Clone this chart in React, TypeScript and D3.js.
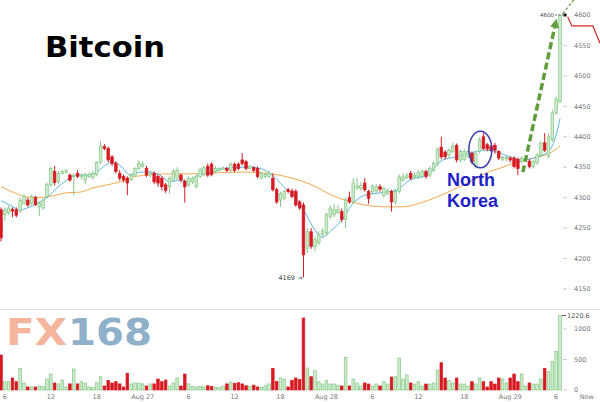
import React from "react";
import * as d3 from "d3";

// ---------- data ----------
const startTime = Date.UTC(2017, 7, 26, 5, 30);
const stepMs = 30 * 60 * 1000;

// [open, high, low, close] for each 30-minute candle
const candles: number[][] = [
  [4280,4284,4228,4234],[4272,4284,4262,4280],[4275,4287,4272,4283],[4281,4284,4268,4278],[4280,4284,4268,4271],
  [4278,4300,4275,4295],[4291,4306,4288,4302],[4296,4300,4285,4288],[4291,4305,4288,4302],[4300,4303,4286,4289],
  [4285,4294,4270,4291],[4283,4299,4280,4296],[4302,4325,4299,4321],[4321,4351,4318,4348],[4343,4352,4320,4325],
  [4326,4344,4322,4340],[4340,4346,4338,4343],[4342,4347,4339,4344],[4337,4340,4326,4329],[4335,4340,4304,4337],
  [4340,4345,4332,4335],[4334,4340,4330,4337],[4329,4341,4322,4337],[4335,4342,4332,4338],[4333,4344,4330,4340],
  [4338,4360,4335,4358],[4358,4393,4355,4385],[4384,4388,4378,4381],[4381,4384,4358,4362],[4367,4370,4352,4356],
  [4356,4360,4340,4343],[4340,4345,4328,4332],[4335,4338,4325,4329],[4332,4335,4304,4324],[4330,4340,4327,4337],
  [4337,4350,4334,4348],[4348,4362,4345,4356],[4351,4360,4349,4355],[4348,4352,4334,4337],[4337,4345,4333,4340],
  [4340,4343,4322,4326],[4335,4338,4318,4324],[4332,4335,4312,4318],[4321,4324,4308,4312],[4318,4335,4307,4332],
  [4329,4347,4326,4343],[4332,4350,4330,4345],[4337,4340,4325,4329],[4327,4330,4292,4318],[4321,4335,4318,4332],
  [4326,4335,4322,4332],[4318,4338,4315,4335],[4335,4349,4332,4346],[4338,4353,4335,4349],[4351,4356,4334,4337],
  [4355,4358,4335,4338],[4343,4352,4340,4348],[4345,4350,4343,4348],[4347,4351,4345,4349],[4348,4350,4342,4345],
  [4345,4358,4342,4355],[4355,4358,4342,4345],[4355,4358,4345,4348],[4362,4373,4353,4356],[4359,4362,4345,4348],
  [4348,4354,4346,4351],[4349,4352,4342,4345],[4348,4351,4332,4335],[4332,4343,4330,4340],[4335,4341,4332,4338],
  [4335,4345,4332,4340],[4332,4340,4310,4313],[4313,4316,4290,4293],[4296,4310,4285,4307],[4299,4313,4296,4310],
  [4313,4316,4307,4310],[4311,4315,4299,4302],[4310,4314,4285,4288],[4293,4296,4280,4283],[4288,4292,4169,4206],
  [4217,4250,4209,4244],[4244,4250,4216,4220],[4220,4236,4212,4231],[4226,4245,4222,4239],[4240,4250,4236,4245],
  [4242,4275,4238,4272],[4269,4287,4265,4283],[4272,4290,4268,4280],[4276,4288,4273,4280],[4277,4282,4260,4264],
  [4264,4300,4250,4296],[4300,4310,4290,4293],[4293,4332,4290,4324],[4316,4332,4313,4319],[4315,4326,4312,4320],
  [4324,4332,4310,4313],[4310,4313,4290,4299],[4310,4322,4305,4318],[4311,4322,4308,4318],[4318,4322,4310,4314],
  [4304,4318,4300,4315],[4307,4315,4304,4311],[4310,4313,4277,4293],[4293,4314,4289,4310],[4310,4338,4307,4334],
  [4329,4340,4326,4334],[4333,4341,4330,4336],[4340,4344,4329,4332],[4334,4342,4331,4337],[4334,4345,4331,4341],
  [4335,4347,4332,4343],[4343,4346,4331,4335],[4337,4352,4334,4348],[4345,4360,4342,4356],[4356,4381,4352,4380],
  [4383,4400,4363,4367],[4375,4378,4363,4367],[4370,4381,4366,4378],[4376,4390,4373,4384],[4386,4389,4358,4362],
  [4362,4379,4358,4376],[4363,4380,4360,4376],[4368,4379,4365,4376],[4373,4376,4355,4359],[4351,4376,4348,4373],
  [4376,4399,4373,4395],[4400,4406,4378,4381],[4387,4390,4376,4380],[4384,4387,4375,4378],[4386,4390,4372,4378],
  [4376,4378,4362,4365],[4363,4369,4360,4366],[4364,4369,4360,4366],[4365,4368,4358,4362],[4365,4368,4348,4351],
  [4363,4366,4337,4348],[4359,4368,4356,4365],[4362,4367,4359,4364],[4360,4363,4348,4351],[4351,4362,4348,4359],
  [4357,4373,4354,4370],[4370,4392,4367,4390],[4390,4406,4375,4378],[4368,4405,4365,4400],[4395,4445,4392,4439],
  [4439,4466,4436,4461],[4458,4600,4455,4600],
];

const volumes: number[] = [
  574,136,136,197,136,355,115,50,50,50,66,60,180,262,115,100,164,50,100,344,
  100,136,115,50,40,120,218,66,158,115,136,100,50,275,100,115,115,100,66,100,
  100,180,136,164,66,115,197,66,262,100,55,50,60,50,70,60,45,40,65,100,
  130,110,120,100,70,60,80,50,45,70,100,355,140,197,180,50,160,197,170,1180,
  360,218,317,136,98,153,98,98,80,66,536,66,180,115,66,115,98,66,98,66,
  136,98,213,218,524,180,246,115,98,136,66,98,98,115,328,448,197,153,115,197,
  98,98,66,136,98,197,136,50,136,98,197,180,115,197,262,136,262,66,115,98,
  98,180,355,300,470,630,1220.6,
];

// moving averages: [candle index, price]
const fastMA: number[][] = [
  [0,4295],[2.3,4288],[5,4280],[7.6,4285],[10.2,4293],[12,4300],[14.1,4313],[17.2,4329],[19.8,4337],
  [22.5,4337],[25,4342],[27.7,4355],[29.2,4359],[31.6,4350],[33.7,4337],[36.3,4342],[38.9,4342],
  [41.5,4337],[44.1,4326],[46.7,4329],[48.8,4326],[51.4,4337],[55.1,4342],[59.3,4349],[63.7,4350],
  [67.1,4349],[70.8,4337],[74.2,4316],[76.8,4301],[78.6,4285],[81.2,4255],[83.8,4235],[86.4,4247],
  [89,4263],[91.6,4288],[95,4304],[99,4308],[103.4,4313],[106.8,4329],[111.2,4337],[115.4,4362],
  [119,4367],[122.5,4373],[125.8,4378],[129.5,4375],[132.9,4367],[136.3,4362],[140,4367],[143,4376],
  [145,4403],[146,4430],
];
const slowMA: number[][] = [
  [0,4318],[3.1,4309],[6.8,4301],[10.2,4300],[13.6,4303],[17.2,4308],[20.6,4309],[24,4316],[27.7,4321],
  [31.1,4326],[34.5,4334],[38.1,4337],[41.5,4339],[44.9,4339],[49.3,4339],[56.7,4341],[63.7,4342],
  [70.8,4339],[76,4332],[81.2,4321],[86.4,4304],[91.6,4293],[95,4288],[100.8,4285],[105,4285],
  [109.4,4291],[113.8,4301],[118,4313],[122.5,4326],[126.9,4341],[131.1,4350],[135.5,4360],[140,4366],
  [143.3,4373],[146,4385],
];

const priceTicks = [4150, 4200, 4250, 4300, 4350, 4400, 4450, 4500, 4550, 4600];
const volumeTicks = [0, 500, 1000];
const timeTickLabels = ["6","12","18","Aug 27","6","12","18","Aug 28","6","12","18","Aug 29","6","Now"];
const timeTickTimes = [
  Date.UTC(2017,7,26,6),Date.UTC(2017,7,26,12),Date.UTC(2017,7,26,18),Date.UTC(2017,7,27,0),
  Date.UTC(2017,7,27,6),Date.UTC(2017,7,27,12),Date.UTC(2017,7,27,18),Date.UTC(2017,7,28,0),
  Date.UTC(2017,7,28,6),Date.UTC(2017,7,28,12),Date.UTC(2017,7,28,18),Date.UTC(2017,7,29,0),
  Date.UTC(2017,7,29,6),Date.UTC(2017,7,29,10),
];
const lowLabel = { index: 79, price: 4169 };
const lastPrice = 4600;
const lastVolume = 1220.6;

// annotations in data space
const arrowFrom = [136.3, 4342];
const arrowTo = [145.1, 4594];
const ellipseAt = { index: 125.2, price: 4379, halfCandles: 3, halfPrice: 30 };
const redTrail: number[][] = [[148, 4597], [149.1, 4582], [154.6, 4582], [156.4, 4554]];
const thinGreen: number[][] = [[146.7, 4602], [149.6, 4625]];

// ---------- drawing ----------
const GREEN_FILL = "#cfeccf";
const GREEN_STROKE = "#84c784";
const RED = "#d71a22";

export default function App() {
  const tOf = (i: number) => new Date(startTime + i * stepMs);
  const x = d3.scaleTime()
    .domain([tOf(0), tOf(146)])
    .range([1, 560]);
  const xi = (i: number) => x(tOf(i));
  const yP = d3.scaleLinear().domain([4150, 4600]).range([289, 15]);
  const yV = d3.scaleLinear().domain([0, 1000]).range([390, 329]);

  const maLine = d3.line<number[]>()
    .x((d) => xi(d[0]))
    .y((d) => yP(d[1]))
    .curve(d3.curveMonotoneX);
  const plainLine = d3.line<number[]>()
    .x((d) => xi(d[0]))
    .y((d) => yP(d[1]));

  const bw = 2.6;
  const ax1 = xi(arrowFrom[0]), ay1 = yP(arrowFrom[1]);
  const ax2 = xi(arrowTo[0]), ay2 = yP(arrowTo[1]);
  const ang = Math.atan2(ay2 - ay1, ax2 - ax1);
  const headLen = 9, headW = 4.5;
  const bx = ax2 - headLen * Math.cos(ang), by = ay2 - headLen * Math.sin(ang);
  const head = [
    [ax2, ay2],
    [bx + headW * Math.sin(ang), by - headW * Math.cos(ang)],
    [bx - headW * Math.sin(ang), by + headW * Math.cos(ang)],
  ];

  const ex = xi(ellipseAt.index), ey = yP(ellipseAt.price);
  const erx = xi(ellipseAt.index + ellipseAt.halfCandles) - ex;
  const ery = yP(ellipseAt.price - ellipseAt.halfPrice) - ey;

  const axisFont = { fontFamily: "DejaVu Sans, sans-serif", fontSize: 6.5, fill: "#777" };

  return (
    <svg width={600} height={402} style={{ position: "absolute", left: 0, top: 0, background: "#fff" }}>
      <rect x={0} y={0} width={600} height={402} fill="#fff" />
      {/* panel separator */}
      <line x1={0} x2={600} y1={309.5} y2={309.5} stroke="#e2e2e2" />

      {/* title */}
      <text x={45} y={57} fontFamily="DejaVu Sans, sans-serif" fontWeight="bold" fontSize={29} fill="#000"
        textLength={120} lengthAdjust="spacingAndGlyphs">Bitcoin</text>

      {/* logo */}
      <text x={6} y={345} fontFamily="DejaVu Sans, sans-serif" fontWeight="bold" fontSize={37} fill="#f5b49c"
        textLength={61} lengthAdjust="spacingAndGlyphs">FX</text>
      <text x={68} y={345} fontFamily="DejaVu Sans, sans-serif" fontWeight="bold" fontSize={37} fill="#8eb0c8"
        textLength={84} lengthAdjust="spacingAndGlyphs">168</text>

      {/* moving averages */}
      <path d={maLine(slowMA) || ""} fill="none" stroke="#f2a94e" strokeWidth={1} />
      <path d={maLine(fastMA) || ""} fill="none" stroke="#5bb5e2" strokeWidth={1} />

      {/* candles */}
      {candles.map((c, i) => {
        const [o, h, l, cl] = c;
        const up = cl >= o;
        const cx = xi(i);
        const top = yP(Math.max(o, cl));
        const bot = yP(Math.min(o, cl));
        return (
          <g key={i}>
            <line x1={cx} x2={cx} y1={yP(h)} y2={yP(l)} stroke={up ? GREEN_STROKE : RED} strokeWidth={1} />
            <rect x={cx - bw / 2} y={top} width={bw} height={Math.max(1, bot - top)}
              fill={up ? GREEN_FILL : RED} stroke={up ? GREEN_STROKE : RED} strokeWidth={0.7} />
          </g>
        );
      })}

      {/* volume */}
      {volumes.map((v, i) => {
        const [o, , , cl] = candles[i];
        const up = cl >= o;
        const cx = xi(i);
        return (
          <rect key={i} x={cx - bw / 2} y={yV(v)} width={bw} height={yV(0) - yV(v)}
            fill={up ? GREEN_FILL : RED} stroke={up ? GREEN_STROKE : RED} strokeWidth={0.7} />
        );
      })}

      {/* price axis */}
      {priceTicks.map((p) => (
        <g key={p}>
          <line x1={563} x2={567} y1={yP(p)} y2={yP(p)} stroke="#ccc" />
          <text x={574} y={yP(p)} dy="0.35em" {...axisFont}>{p}</text>
        </g>
      ))}
      {/* volume axis */}
      {volumeTicks.map((v) => (
        <g key={v}>
          <line x1={563} x2={567} y1={yV(v)} y2={yV(v)} stroke="#ccc" />
          <text x={574} y={yV(v)} dy="0.35em" {...axisFont}>{v}</text>
        </g>
      ))}
      <line x1={562} x2={566} y1={yV(lastVolume)} y2={yV(lastVolume)} stroke="#555" />
      <text x={567} y={yV(lastVolume)} dy="0.35em" {...axisFont} fill="#555">{lastVolume}</text>

      {/* time axis */}
      {timeTickLabels.map((lab, k) => (
        <text key={k} x={x(new Date(timeTickTimes[k]))} y={399} textAnchor="middle" {...axisFont}>{lab}</text>
      ))}

      {/* low label */}
      <text x={xi(lowLabel.index) - 1} y={yP(lowLabel.price)} dy="0.35em" textAnchor="end" {...axisFont} fill="#444">
        {lowLabel.price} →
      </text>

      {/* last price marker */}
      <text x={xi(146) - 6} y={yP(lastPrice)} dy="0.35em" textAnchor="end" {...axisFont} fontSize={5.5} fill="#444">{lastPrice}</text>
      <line x1={xi(146) - 5} x2={xi(146) + 3} y1={yP(lastPrice)} y2={yP(lastPrice)} stroke="#444" strokeDasharray="2,1.5" strokeWidth={0.8} />
      <rect x={xi(146) + 3.5} y={yP(lastPrice) - 1.5} width={3} height={3} fill="#111" />

      {/* annotations */}
      <path d={plainLine(redTrail) || ""} fill="none" stroke="#d42a2a" strokeWidth={1.2} />
      <path d={plainLine(thinGreen) || ""} fill="none" stroke="#5f9e3c" strokeWidth={1.2} strokeDasharray="3,2" />
      <line x1={ax1} y1={ay1} x2={bx} y2={by} stroke="#5f9e3c" strokeWidth={3.5} strokeDasharray="7,3.5" />
      <polygon points={head.map((p) => p.join(",")).join(" ")} fill="#5f9e3c" />
      <ellipse cx={ex} cy={ey} rx={erx} ry={ery} fill="none" stroke="#3c3cae" strokeWidth={1.5} />
      <text x={447} y={186} fontFamily="Liberation Sans, Arial, sans-serif" fontWeight="bold" fontSize={18} fill="#1e1ec8">North</text>
      <text x={447} y={207} fontFamily="Liberation Sans, Arial, sans-serif" fontWeight="bold" fontSize={18} fill="#1e1ec8">Korea</text>
    </svg>
  );
}
